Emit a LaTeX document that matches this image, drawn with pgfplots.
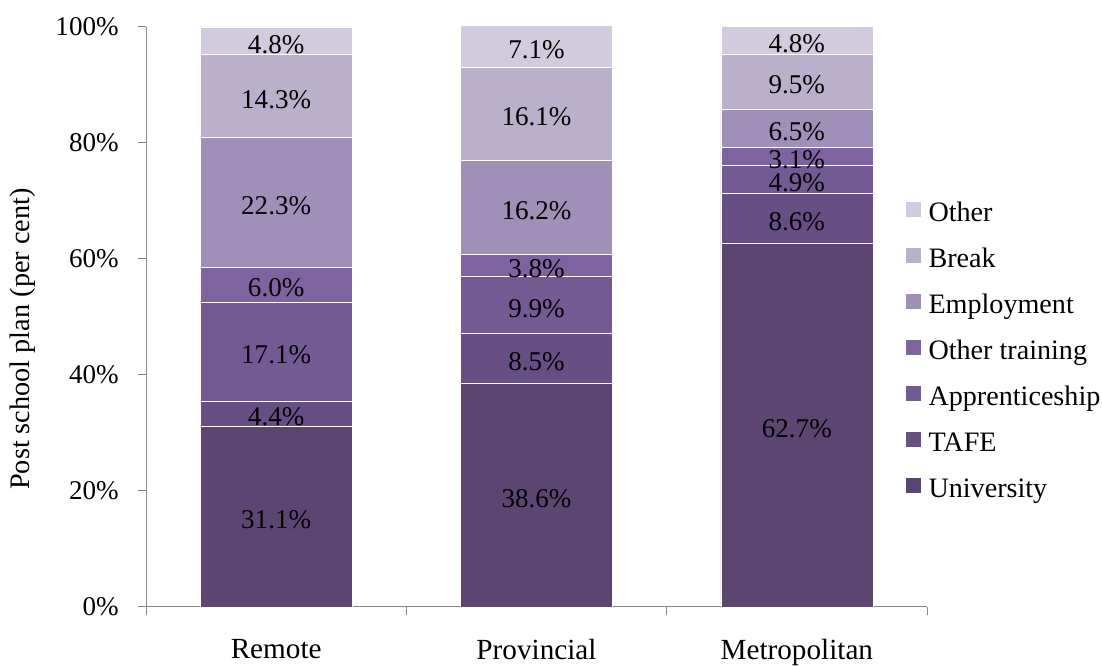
\documentclass[border=0pt]{standalone}
\usepackage{pgfplots}
\pgfplotsset{compat=1.18}
\usepackage{fontspec}
\setmainfont{Liberation Serif}
\definecolor{cUni}{RGB}{92,69,113}
\definecolor{cTafe}{RGB}{103,79,132}
\definecolor{cApp}{RGB}{115,90,147}
\definecolor{cOtr}{RGB}{127,98,160}
\definecolor{cEmp}{RGB}{160,143,183}
\definecolor{cBrk}{RGB}{186,176,203}
\definecolor{cOth}{RGB}{210,203,221}
\definecolor{axgray}{RGB}{134,134,134}
\begin{document}
\begin{tikzpicture}[font=\fontsize{20.3pt}{24pt}\selectfont]
\useasboundingbox (0,0) rectangle (826.5pt,499.5pt);
\begin{axis}[
  at={(109.5pt,44.25pt)}, anchor=south west,
  scale only axis, width=585.75pt, height=435pt,
  ybar stacked, bar width=114pt,
  xmin=-0.5, xmax=2.5, ymin=0, ymax=100,
  axis x line=bottom, axis y line=left,
  axis line style={-, draw=axgray, line width=0.75pt},
  x axis line style={-}, y axis line style={-},
  tick align=outside, major tick length=6pt,
  tick style={draw=axgray, line width=0.75pt},
  xtick={-0.5,0.5,1.5,2.5}, xticklabels={},
  extra x ticks={0,1,2}, extra x tick labels={Remote,Provincial,Metropolitan},
  extra x tick style={major tick length=0pt},
  xticklabel style={yshift=-20.5pt, font=\fontsize{21.9pt}{26pt}\selectfont},
  ytick={0,20,...,100},
  yticklabel={\pgfmathprintnumber{\tick}\%},
  /pgf/number format/assume math mode=true,
  yticklabel style={xshift=-11pt},
  ylabel={Post school plan (per cent)},
  every axis y label/.style={at={(axis description cs:-0.1575,0.462)}, rotate=90, anchor=center,
    font=\fontsize{21.2pt}{25pt}\selectfont},
  legend style={at={(axis description cs:0.967,0.7026)}, anchor=north west, draw=none, fill=none,
    row sep=20.4pt, column sep=6pt, font=\fontsize{21.1pt}{25pt}\selectfont,
    nodes={inner sep=0pt, text height=14pt, text depth=0pt, anchor=base west}},
  legend cell align=left,
  reverse legend,
  legend image code/.code={\fill[#1,draw=none] (0pt,2.9pt) rectangle (11.25pt,14.1pt);},
]
\addplot[fill=cUni, draw=white, line width=0.5pt] coordinates {(0,31.1) (1,38.6) (2,62.7)};
\addplot[fill=cTafe, draw=white, line width=0.5pt] coordinates {(0,4.4) (1,8.5) (2,8.6)};
\addplot[fill=cApp, draw=white, line width=0.5pt] coordinates {(0,17.1) (1,9.9) (2,4.9)};
\addplot[fill=cOtr, draw=white, line width=0.5pt] coordinates {(0,6.0) (1,3.8) (2,3.1)};
\addplot[fill=cEmp, draw=white, line width=0.5pt] coordinates {(0,22.3) (1,16.2) (2,6.5)};
\addplot[fill=cBrk, draw=white, line width=0.5pt] coordinates {(0,14.3) (1,16.1) (2,9.5)};
\addplot[fill=cOth, draw=white, line width=0.5pt] coordinates {(0,4.8) (1,7.1) (2,4.8)};
\legend{University, TAFE, Apprenticeship, Other training, Employment, Break, Other}
\end{axis}
\begin{axis}[
  at={(109.5pt,44.25pt)}, anchor=south west,
  scale only axis, width=585.75pt, height=435pt,
  xmin=-0.5, xmax=2.5, ymin=0, ymax=100, hide axis, clip=false,
  /pgf/number format/assume math mode=true,
  nodes near coords={\pgfmathprintnumber[fixed,fixed zerofill,precision=1]{\pgfplotspointmeta}\%},
  every node near coord/.append style={anchor=center, inner sep=0pt, text=black, yshift=-2.5pt},
]
\addplot[draw=none, mark=none, point meta=explicit] table[x=x,y=y,meta=v] {
x y v
0 15.55 31.1
0 33.3 4.4
0 44.05 17.1
0 55.6 6.0
0 69.75 22.3
0 88.05 14.3
0 97.6 4.8
1 19.3 38.6
1 42.85 8.5
1 52.05 9.9
1 58.9 3.8
1 68.9 16.2
1 85.05 16.1
1 96.7 7.1
2 31.35 62.7
2 67.0 8.6
2 73.75 4.9
2 77.75 3.1
2 82.55 6.5
2 90.55 9.5
2 97.65 4.8
};
\end{axis}
\end{tikzpicture}
\end{document}
